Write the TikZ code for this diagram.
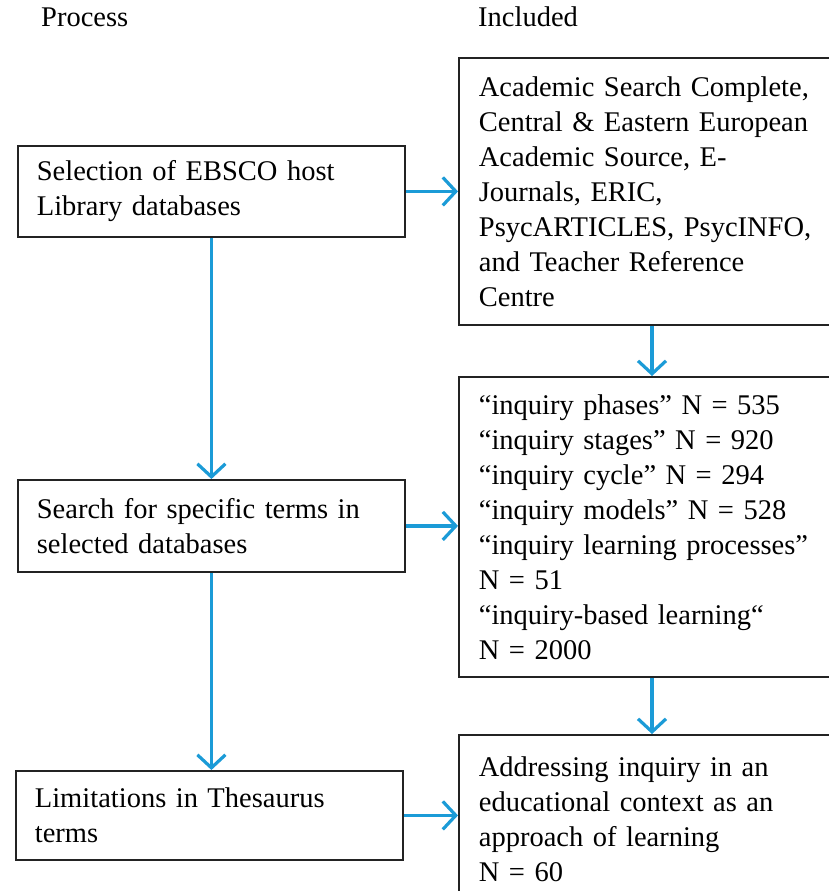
\documentclass[tikz,border=0pt]{standalone}
\usepackage{fontspec}
\setmainfont{Liberation Serif}
\usetikzlibrary{arrows.meta}
\definecolor{arrowblue}{RGB}{27,155,215}
\definecolor{boxline}{RGB}{35,35,35}
\begin{document}
\begin{tikzpicture}[x=1pt,y=-1pt,
  txt/.style={font=\fontsize{28.5}{35}\selectfont},
  box/.style={txt, draw=boxline, line width=1.8pt, inner ysep=0pt, align=left, anchor=north west},
  lbox/.style={box, inner xsep=19pt, text width=349pt},
  rbox/.style={box, inner xsep=20pt, text width=362pt},
  conn/.style={draw=arrowblue, line width=3.2pt, -{Straight Barb[length=13pt,width=28pt,line width=3.2pt]}},
  head/.style={txt, anchor=base west, inner sep=0pt}]
\useasboundingbox (0,0) rectangle (829,891);
\clip (0,0) rectangle (829,891);
\fill[white] (0,0) rectangle (829,891);

\node[head] (hp) at (41,27) {Process};
\node[head] (hi) at (478,27) {Included};

\node[lbox, minimum height=91pt] (L1) at (17,145) {Selection of EBSCO host\\Library databases};
\node[lbox, minimum height=92pt] (L2) at (17,479) {Search for specific terms in\\selected databases};
\node[lbox, minimum height=89pt] (L3) at (15,770) {Limitations in Thesaurus\\terms};

\node[rbox, minimum height=267pt] (R1) at (458,57) {Academic Search Complete,\\Central \& Eastern European\\Academic Source, E-\\Journals, ERIC,\\PsycARTICLES, PsycINFO,\\and Teacher Reference\\Centre};
\node[rbox, minimum height=300pt] (R2) at (458,376) {“inquiry phases” N = 535\\“inquiry stages” N = 920\\“inquiry cycle” N = 294\\“inquiry models” N = 528\\“inquiry learning processes”\\N = 51\\“inquiry-based learning“\\N = 2000};
\node[rbox, minimum height=168pt] (R3) at (458,734) {Addressing inquiry in an\\educational context as an\\approach of learning\\N = 60};

\draw[conn] (L1.east) -- (L1.east -| R1.west);
\draw[conn] (L2.east) -- (L2.east -| R2.west);
\draw[conn] (L3.east) -- (L3.east -| R3.west);
\draw[conn] (L1.south) -- (L1.south |- L2.north);
\draw[conn] (L2.south) -- (L2.south |- L3.north);
\draw[conn] ([xshift=194pt]R1.south west) -- ([xshift=194pt]R2.north west);
\draw[conn] ([xshift=194pt]R2.south west) -- ([xshift=194pt]R3.north west);
\end{tikzpicture}
\end{document}
